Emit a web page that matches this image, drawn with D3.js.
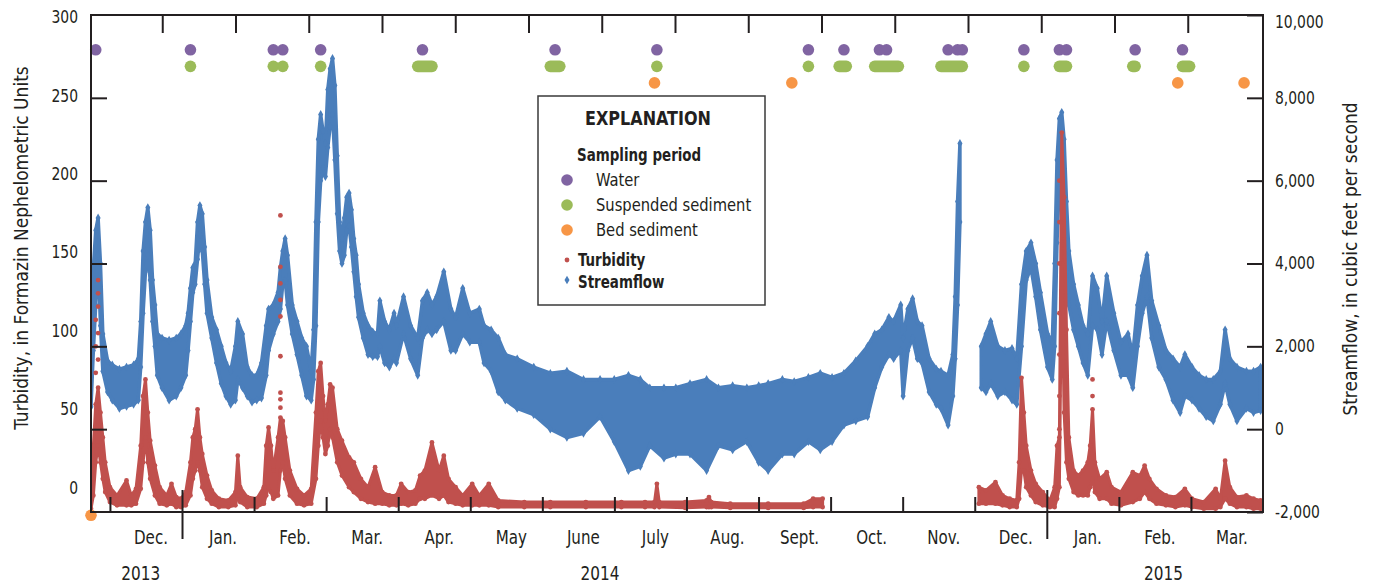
<!DOCTYPE html>
<html>
<head>
<meta charset="utf-8">
<script src="https://cdn.jsdelivr.net/npm/d3@7"></script>
<style>
  body { margin: 0; background: #fff; }
</style>
</head>
<body>
<div id="chart"></div>
<script>
// streamflow, cubic feet per second: [date, daily low, daily high]
const flowRecords = [
  ['2013-11-23', 540, 1900], ['2013-11-24', 1900, 3900], ['2013-11-25', 3000, 4800],
  ['2013-11-26', 4200, 5100], ['2013-11-27', 2500, 4000], ['2013-11-28', 1400, 2300],
  ['2013-11-30', 900, 1650], ['2013-12-02', 700, 1550], ['2013-12-05', 500, 1450],
  ['2013-12-08', 550, 1500], ['2013-12-11', 600, 1550], ['2013-12-13', 700, 1700],
  ['2013-12-14', 1500, 2600], ['2013-12-15', 2800, 4300], ['2013-12-16', 3800, 5000],
  ['2013-12-17', 4200, 5350], ['2013-12-18', 3600, 4800], ['2013-12-19', 2600, 3600],
  ['2013-12-20', 2000, 3000], ['2013-12-21', 1300, 2300], ['2013-12-23', 1000, 2200],
  ['2013-12-26', 700, 2150], ['2013-12-29', 800, 2200], ['2013-12-31', 1000, 2300],
  ['2014-01-02', 1300, 2500], ['2014-01-03', 1900, 2800], ['2014-01-04', 2600, 3400],
  ['2014-01-05', 3300, 3900], ['2014-01-06', 3500, 4000], ['2014-01-07', 4100, 5000],
  ['2014-01-08', 4700, 5400], ['2014-01-09', 4300, 5200], ['2014-01-10', 3500, 4400],
  ['2014-01-11', 2800, 3600], ['2014-01-13', 2200, 2700], ['2014-01-15', 1600, 2400],
  ['2014-01-17', 1100, 2000], ['2014-01-19', 800, 1600], ['2014-01-21', 600, 1400],
  ['2014-01-23', 700, 2000], ['2014-01-24', 1200, 2600], ['2014-01-26', 1000, 2300],
  ['2014-01-28', 800, 1500], ['2014-01-30', 650, 1300], ['2014-02-01', 700, 1300],
  ['2014-02-03', 750, 1600], ['2014-02-05', 1300, 2500], ['2014-02-06', 1900, 2900],
  ['2014-02-08', 2300, 3000], ['2014-02-10', 2600, 3300], ['2014-02-11', 2900, 3900],
  ['2014-02-12', 3500, 4300], ['2014-02-13', 3600, 4600], ['2014-02-14', 3000, 4200],
  ['2014-02-16', 2300, 3000], ['2014-02-18', 1800, 2600], ['2014-02-20', 1300, 2200],
  ['2014-02-22', 800, 2000], ['2014-02-24', 700, 1400], ['2014-02-25', 1200, 2400],
  ['2014-02-26', 2500, 5000], ['2014-02-27', 5000, 7000], ['2014-02-28', 6000, 7600],
  ['2014-03-01', 6300, 7200], ['2014-03-02', 6100, 6900], ['2014-03-03', 6800, 8200],
  ['2014-03-04', 7300, 8700], ['2014-03-05', 7600, 8950], ['2014-03-06', 6500, 8300],
  ['2014-03-07', 5200, 6600], ['2014-03-08', 4300, 5000], ['2014-03-09', 4000, 4600],
  ['2014-03-10', 4200, 5100], ['2014-03-11', 4800, 5600], ['2014-03-12', 4900, 5700],
  ['2014-03-13', 4400, 5300], ['2014-03-14', 3800, 4600], ['2014-03-15', 3200, 4200],
  ['2014-03-16', 2700, 3500], ['2014-03-18', 2200, 2800], ['2014-03-20', 1800, 2500],
  ['2014-03-22', 1750, 2350], ['2014-03-24', 1750, 2300], ['2014-03-25', 2000, 3100],
  ['2014-03-27', 1600, 2600], ['2014-03-29', 1500, 2400], ['2014-03-31', 1700, 2800],
  ['2014-04-01', 1600, 2500], ['2014-04-04', 2300, 3200], ['2014-04-07', 1700, 2500],
  ['2014-04-10', 1300, 2200], ['2014-04-12', 2200, 3100], ['2014-04-14', 2400, 3300],
  ['2014-04-16', 2300, 3000], ['2014-04-18', 2400, 3200], ['2014-04-21', 2600, 3800],
  ['2014-04-24', 1900, 2900], ['2014-04-26', 1900, 2700], ['2014-04-29', 2300, 3400],
  ['2014-05-02', 2100, 2800], ['2014-05-06', 2100, 2900], ['2014-05-08', 1600, 2500],
  ['2014-05-11', 1400, 2400], ['2014-05-14', 900, 2200], ['2014-05-17', 700, 1800],
  ['2014-05-22', 500, 1700], ['2014-05-29', 350, 1500], ['2014-06-05', 0, 1350],
  ['2014-06-12', -200, 1400], ['2014-06-19', -100, 1200], ['2014-06-26', 300, 1200],
  ['2014-07-02', -300, 1200], ['2014-07-08', -1000, 1300], ['2014-07-13', -900, 1200],
  ['2014-07-17', -400, 1000], ['2014-07-23', -700, 1000], ['2014-07-28', -600, 1000],
  ['2014-08-03', -600, 1100], ['2014-08-10', -1000, 1200], ['2014-08-15', -400, 1000],
  ['2014-08-21', -500, 1050], ['2014-08-27', -300, 1000], ['2014-09-01', -800, 1050],
  ['2014-09-05', -1000, 1100], ['2014-09-11', -600, 1200], ['2014-09-16', -600, 1150],
  ['2014-09-22', -300, 1250], ['2014-09-27', -500, 1350], ['2014-10-02', -300, 1250],
  ['2014-10-07', 100, 1350], ['2014-10-12', 200, 1650], ['2014-10-17', 300, 2000],
  ['2014-10-20', 1000, 2300], ['2014-10-23', 1500, 2400], ['2014-10-26', 1800, 2700],
  ['2014-10-28', 1700, 2600], ['2014-10-31', 1900, 3000], ['2014-11-01', 800, 2200],
  ['2014-11-03', 1900, 2900], ['2014-11-05', 2200, 3150], ['2014-11-07', 1700, 2600],
  ['2014-11-09', 1600, 2500], ['2014-11-12', 900, 1700], ['2014-11-15', 600, 1450],
  ['2014-11-17', 500, 1400], ['2014-11-20', 100, 1300], ['2014-11-22', 800, 1800],
  ['2014-11-23', 1700, 3200], ['2014-11-24', 3000, 5500], ['2014-11-25', 5000, 6900],
  null, // no record
  ['2014-12-04', 1000, 2000], ['2014-12-06', 900, 2300], ['2014-12-08', 1100, 2600],
  ['2014-12-11', 800, 2000], ['2014-12-14', 900, 1900], ['2014-12-17', 700, 1950],
  ['2014-12-19', 600, 1700], ['2014-12-21', 2000, 3500], ['2014-12-23', 3600, 4300],
  ['2014-12-25', 3900, 4500], ['2014-12-27', 3200, 4000], ['2014-12-29', 2400, 3300],
  ['2015-01-01', 1500, 2300], ['2015-01-03', 1200, 2100], ['2015-01-04', 2000, 4000],
  ['2015-01-05', 4500, 6500], ['2015-01-06', 6000, 7500], ['2015-01-07', 6600, 7650],
  ['2015-01-08', 5000, 7000], ['2015-01-09', 3800, 5500], ['2015-01-10', 3000, 4300],
  ['2015-01-12', 2400, 3500], ['2015-01-14', 2000, 3000], ['2015-01-16', 1600, 2500],
  ['2015-01-18', 1300, 2300], ['2015-01-20', 2500, 3700], ['2015-01-22', 2400, 3400],
  ['2015-01-24', 1800, 2600], ['2015-01-26', 2600, 3700], ['2015-01-29', 1900, 2800],
  ['2015-02-01', 1300, 2100], ['2015-02-04', 1300, 2300], ['2015-02-06', 1000, 1800],
  ['2015-02-08', 2000, 3000], ['2015-02-10', 2800, 3700], ['2015-02-12', 3200, 4200],
  ['2015-02-14', 2200, 3100], ['2015-02-17', 1500, 2500], ['2015-02-20', 1200, 1900],
  ['2015-02-23', 700, 1700], ['2015-02-26', 400, 1500], ['2015-02-28', 800, 1800],
  ['2015-03-03', 700, 1500], ['2015-03-06', 500, 1300], ['2015-03-09', 300, 1200],
  ['2015-03-12', 200, 1200], ['2015-03-15', 600, 1400], ['2015-03-17', 1100, 2400],
  ['2015-03-19', 600, 1700], ['2015-03-22', 200, 1500], ['2015-03-26', 500, 1400],
  ['2015-03-29', 400, 1400], ['2015-04-01', 450, 1500]
]

// turbidity, FNU: [date, daily low, daily high]
const turbidityRecords = [
  ['2013-11-23', 2, 20], ['2013-11-24', 10, 40], ['2013-11-25', 30, 65],
  ['2013-11-26', 40, 75], ['2013-11-27', 30, 60], ['2013-11-28', 20, 45],
  ['2013-11-29', 12, 30], ['2013-12-01', 6, 15], ['2013-12-04', 4, 10],
  ['2013-12-08', 4, 19], ['2013-12-10', 4, 10], ['2013-12-12', 5, 14],
  ['2013-12-14', 14, 40], ['2013-12-15', 30, 70], ['2013-12-16', 45, 80],
  ['2013-12-17', 30, 60], ['2013-12-18', 20, 43], ['2013-12-20', 10, 28],
  ['2013-12-22', 5, 15], ['2013-12-25', 4, 10], ['2013-12-27', 5, 17],
  ['2013-12-29', 3, 9], ['2013-12-31', 3, 8], ['2014-01-02', 4, 12],
  ['2014-01-04', 10, 30], ['2014-01-05', 20, 45], ['2014-01-06', 25, 50],
  ['2014-01-07', 30, 62], ['2014-01-08', 25, 45], ['2014-01-09', 15, 35],
  ['2014-01-11', 8, 22], ['2014-01-13', 5, 13], ['2014-01-16', 3, 8],
  ['2014-01-20', 3, 7], ['2014-01-23', 4, 12], ['2014-01-24', 10, 34],
  ['2014-01-25', 6, 15], ['2014-01-28', 3, 9], ['2014-02-01', 3, 8],
  ['2014-02-04', 5, 15], ['2014-02-05', 10, 40], ['2014-02-06', 15, 51],
  ['2014-02-07', 12, 40], ['2014-02-08', 8, 25], ['2014-02-10', 10, 45],
  ['2014-02-11', 25, 57], ['2014-02-12', 30, 55], ['2014-02-13', 20, 45],
  ['2014-02-15', 10, 25], ['2014-02-18', 5, 14], ['2014-02-21', 4, 10],
  ['2014-02-24', 5, 14], ['2014-02-26', 20, 60], ['2014-02-27', 40, 85],
  ['2014-02-28', 55, 90], ['2014-03-01', 45, 70], ['2014-03-02', 35, 55],
  ['2014-03-03', 40, 65], ['2014-03-04', 50, 77], ['2014-03-05', 45, 75],
  ['2014-03-07', 30, 50], ['2014-03-09', 22, 43], ['2014-03-12', 15, 33],
  ['2014-03-14', 12, 30], ['2014-03-17', 8, 20], ['2014-03-20', 6, 15],
  ['2014-03-23', 5, 27], ['2014-03-26', 5, 12], ['2014-03-29', 4, 10],
  ['2014-04-01', 4, 10], ['2014-04-03', 5, 17], ['2014-04-06', 4, 12],
  ['2014-04-09', 5, 13], ['2014-04-11', 8, 22], ['2014-04-13', 8, 25],
  ['2014-04-16', 10, 42], ['2014-04-19', 8, 25], ['2014-04-21', 10, 34],
  ['2014-04-23', 6, 20], ['2014-04-26', 5, 15], ['2014-04-29', 4, 10],
  ['2014-05-03', 4, 17], ['2014-05-06', 4, 10], ['2014-05-10', 4, 17],
  ['2014-05-14', 3, 7], ['2014-05-25', 3, 6], ['2014-06-05', 3, 6],
  ['2014-06-20', 3, 6], ['2014-07-05', 3, 6], ['2014-07-15', 3, 6],
  ['2014-07-19', 3, 6], ['2014-07-20', 4, 17], ['2014-07-21', 3, 6],
  ['2014-08-01', 2.5, 6], ['2014-08-10', 3, 7], ['2014-08-11', 3, 9],
  ['2014-08-12', 3, 6], ['2014-08-20', 2.5, 5], ['2014-09-05', 2.5, 5],
  ['2014-09-20', 2.5, 5], ['2014-09-24', 3, 8], ['2014-09-28', 3, 8],
  null, // no record
  ['2014-12-03', 5, 15], ['2014-12-06', 5, 13], ['2014-12-10', 5, 18],
  ['2014-12-13', 4, 10], ['2014-12-16', 3, 8], ['2014-12-19', 3, 7],
  ['2014-12-20', 8, 30], ['2014-12-21', 25, 81], ['2014-12-22', 25, 60],
  ['2014-12-23', 15, 40], ['2014-12-25', 10, 25], ['2014-12-27', 6, 17],
  ['2014-12-30', 4, 12], ['2015-01-02', 3, 7], ['2015-01-04', 3, 15],
  ['2015-01-05', 8, 40], ['2015-01-06', 15, 45], ['2015-01-07', 150, 229],
  ['2015-01-08', 60, 190], ['2015-01-09', 30, 110], ['2015-01-10', 20, 45],
  ['2015-01-12', 12, 25], ['2015-01-14', 10, 22], ['2015-01-16', 10, 25],
  ['2015-01-18', 10, 30], ['2015-01-19', 15, 40], ['2015-01-20', 20, 62],
  ['2015-01-21', 12, 30], ['2015-01-23', 8, 20], ['2015-01-26', 8, 24],
  ['2015-01-28', 5, 15], ['2015-02-01', 4, 12], ['2015-02-06', 6, 24],
  ['2015-02-09', 8, 22], ['2015-02-11', 12, 28], ['2015-02-13', 8, 20],
  ['2015-02-16', 5, 14], ['2015-02-20', 4, 10], ['2015-02-24', 3, 9],
  ['2015-02-28', 4, 14], ['2015-03-03', 3, 8], ['2015-03-08', 2, 6],
  ['2015-03-13', 2, 14], ['2015-03-15', 3, 8], ['2015-03-17', 8, 31],
  ['2015-03-19', 5, 15], ['2015-03-22', 3, 9], ['2015-03-26', 3, 10],
  ['2015-03-29', 2, 8], ['2015-04-01', 2, 7]
]
// scattered turbidity readings on fast rises: [date, value]
const turbiditySpikeReadings = [
  ['2013-11-25', 84], ['2013-11-25', 100], ['2013-11-25', 116],
  ['2013-11-26', 92], ['2013-11-26', 108], ['2013-11-26', 124],
  ['2013-11-26', 132], ['2013-11-26', 140],
  ['2014-02-11', 63], ['2014-02-11', 68], ['2014-02-11', 72], ['2014-02-11', 94],
  ['2014-02-11', 118], ['2014-02-11', 128], ['2014-02-11', 138],
  ['2014-02-11', 148], ['2014-02-11', 179],
  ['2015-01-06', 50], ['2015-01-06', 70], ['2015-01-06', 95], ['2015-01-06', 120],
  ['2015-01-06', 150], ['2015-01-06', 175], ['2015-01-06', 200],
  ['2015-01-20', 70], ['2015-01-20', 80]
]

// sampling periods: [first day, last day]
const waterPeriods = [
  ['2013-11-25', '2013-11-25'], ['2014-01-04', '2014-01-04'], ['2014-02-08', '2014-02-08'],
  ['2014-02-12', '2014-02-12'], ['2014-02-28', '2014-02-28'], ['2014-04-12', '2014-04-12'],
  ['2014-06-07', '2014-06-07'], ['2014-07-20', '2014-07-20'], ['2014-09-22', '2014-09-22'],
  ['2014-10-07', '2014-10-07'], ['2014-10-22', '2014-10-22'], ['2014-10-25', '2014-10-25'],
  ['2014-11-20', '2014-11-20'], ['2014-11-24', '2014-11-24'], ['2014-11-26', '2014-11-26'],
  ['2014-12-22', '2014-12-22'], ['2015-01-06', '2015-01-06'], ['2015-01-09', '2015-01-09'],
  ['2015-02-07', '2015-02-07'], ['2015-02-27', '2015-02-27']
]
const suspendedPeriods = [
  ['2014-01-04', '2014-01-04'], ['2014-02-08', '2014-02-08'], ['2014-02-12', '2014-02-12'],
  ['2014-02-28', '2014-02-28'], ['2014-04-10', '2014-04-16'], ['2014-06-05', '2014-06-09'],
  ['2014-07-20', '2014-07-20'], ['2014-09-22', '2014-09-22'], ['2014-10-05', '2014-10-08'],
  ['2014-10-20', '2014-10-30'], ['2014-11-17', '2014-11-26'], ['2014-12-22', '2014-12-22'],
  ['2015-01-06', '2015-01-09'], ['2015-02-06', '2015-02-07'], ['2015-02-27', '2015-03-02']
]
const bedPeriods = [
  ['2014-07-19', '2014-07-19'], ['2014-09-15', '2014-09-15'],
  ['2015-02-25', '2015-02-25'], ['2015-03-25', '2015-03-25']
]
// one bed-sediment sample sits on the lower left corner of the graph
const strayBedSample = ['2013-11-23', -2]

// marker rows, in turbidity units
const waterLevel = 279
const suspendedLevel = 269
const bedLevel = 259

const turbidityTicks = [0, 50, 100, 150, 200, 250, 300]
const flowTicks = [-2000, 0, 2000, 4000, 6000, 8000, 10000]
const monthLabels = ['Dec.', 'Jan.', 'Feb.', 'Mar.', 'Apr.', 'May', 'June', 'July',
  'Aug.', 'Sept.', 'Oct.', 'Nov.', 'Dec.', 'Jan.', 'Feb.', 'Mar.']
const yearLabels = ['2013', '2014', '2015']
const yearLabelDates = ['2013-12-14', '2014-06-26', '2015-02-19']

const ink = '#231f20'
const font = '"DejaVu Sans Condensed", "DejaVu Sans", sans-serif'
const blue = '#4a7ebb'
const red = '#c0504d'
const purple = '#8064a2'
const green = '#9bbb59'
const orange = '#f79646'

let margin = { top: 15, right: 114, bottom: 72, left: 91 }
let width = 1377 - margin.left - margin.right
let height = 584 - margin.top - margin.bottom

const parse = d3.timeParse('%Y-%m-%d')

// squeeze text sideways round its anchor, the original type is a narrow face
function condense(selection, sx) {
  selection.each(function() {
    let t = d3.select(this)
    let tx = +t.attr('x') || 0
    let ty = +t.attr('y') || 0
    let prev = t.attr('transform') || ''
    t.attr('transform', prev + ' translate(' + tx + ',' + ty + ') scale(' + sx + ',1) translate(' + -tx + ',' + -ty + ')')
  })
}

let svg = d3.select('#chart')
  .append('svg')
  .attr('width', width + margin.left + margin.right)
  .attr('height', height + margin.top + margin.bottom)
  .style('display', 'block')
  .append('g')
  .attr('transform', 'translate(' + margin.left + ',' + margin.top + ')')

let x = d3.scaleTime()
  .domain([parse('2013-11-23'), parse('2015-04-02')])
  .range([0, width])
let yTurb = d3.scaleLinear().domain([0, 300]).range([height, 0])
// the printed turbidity numbers do not sit on their tick marks
let yTurbLabel = d3.scaleLinear().domain([0, 300]).range([height - 24.3, 2.3])
let yFlow = d3.scaleLinear().domain([-2000, 10000]).range([height, 0])

let flow = flowRecords.map(r => r && { date: parse(r[0]), low: r[1], high: r[2] })
let turb = turbidityRecords.map(r => r && { date: parse(r[0]), low: r[1], high: r[2] })

svg.append('clipPath')
  .attr('id', 'plot-clip')
  .append('rect')
  .attr('x', 0)
  .attr('y', -2)
  .attr('width', width)
  .attr('height', height + 2)

let plot = svg.append('g').attr('clip-path', 'url(#plot-clip)')

// Streamflow band
let flowArea = d3.area()
  .defined(d => d)
  .x(d => x(d.date))
  .y0(d => yFlow(d.low))
  .y1(d => yFlow(d.high))

plot.append('path')
  .datum(flow)
  .attr('d', flowArea)
  .attr('fill', blue)
  .attr('stroke', blue)
  .attr('stroke-width', 3.5)
  .attr('stroke-linejoin', 'round')

let diamond = d3.symbol().type(d3.symbolDiamond).size(22)
let flowPoints = flow.filter(d => d).flatMap(d => [[d.date, d.low], [d.date, d.high]])
plot.selectAll('.flow-point')
  .data(flowPoints)
  .enter().append('path')
  .attr('class', 'flow-point')
  .attr('d', diamond)
  .attr('transform', d => 'translate(' + x(d[0]) + ',' + yFlow(d[1]) + ')')
  .attr('fill', blue)

// Turbidity band on top
let turbArea = d3.area()
  .defined(d => d)
  .x(d => x(d.date))
  .y0(d => yTurb(d.low))
  .y1(d => yTurb(d.high))

plot.append('path')
  .datum(turb)
  .attr('d', turbArea)
  .attr('fill', red)
  .attr('stroke', red)
  .attr('stroke-width', 3)
  .attr('stroke-linejoin', 'round')

let turbPoints = turb.filter(d => d)
  .flatMap(d => [[d.date, d.low], [d.date, d.high]])
  .concat(turbiditySpikeReadings.map(d => [parse(d[0]), d[1]]))
plot.selectAll('.turb-point')
  .data(turbPoints)
  .enter().append('circle')
  .attr('class', 'turb-point')
  .attr('cx', d => x(d[0]))
  .attr('cy', d => yTurb(d[1]))
  .attr('r', 2.4)
  .attr('fill', red)

// Sampling periods, drawn as pills from first to last day
let r = 5.8
function drawPeriods(periods, level, color) {
  svg.append('g')
    .selectAll('rect')
    .data(periods)
    .enter().append('rect')
    .attr('x', d => x(parse(d[0])) - r)
    .attr('y', yTurb(level) - r)
    .attr('width', d => x(parse(d[1])) - x(parse(d[0])) + 2 * r)
    .attr('height', 2 * r)
    .attr('rx', r)
    .attr('fill', color)
}
drawPeriods(waterPeriods, waterLevel, purple)
drawPeriods(suspendedPeriods, suspendedLevel, green)
drawPeriods(bedPeriods, bedLevel, orange)

svg.append('circle')
  .attr('cx', x(parse(strayBedSample[0])))
  .attr('cy', yTurb(strayBedSample[1]))
  .attr('r', r)
  .attr('fill', orange)

// Frame
svg.append('rect')
  .attr('width', width)
  .attr('height', height)
  .attr('fill', 'none')
  .attr('stroke', ink)
  .attr('stroke-width', 2)

function styleAxis(g, size) {
  g.attr('font-family', font).attr('font-size', size).attr('color', ink)
  g.select('.domain').remove()
  g.selectAll('.tick line').attr('stroke-width', 2)
}

// Left axis: marks and numbers
svg.append('g')
  .call(d3.axisLeft(yTurb).tickValues(turbidityTicks.slice(1, -1)).tickSize(-16).tickFormat(''))
  .call(styleAxis, 17)

svg.append('g')
  .call(d3.axisLeft(yTurbLabel).tickValues(turbidityTicks).tickSize(0).tickPadding(13))
  .call(styleAxis, 17)
  .call(g => g.selectAll('text').call(condense, 0.91))

// Right axis
let flowFormat = d => d3.format(',')(d).replace('\u2212', '-')
svg.append('g')
  .attr('transform', 'translate(' + width + ',0)')
  .call(d3.axisRight(yFlow).tickValues(flowTicks).tickSize(-16).tickPadding(12).tickFormat(flowFormat))
  .call(styleAxis, 17)
  .call(g => g.selectAll('.tick').filter(d => d === 10000).select('text').attr('y', 7))
  .call(g => g.selectAll('text').call(condense, 0.91))

// Bottom axis: ticks every 1/12 year from Dec. 1, 2013
let tickStart = parse('2013-12-01')
let tickDates = d3.range(17).map(k => new Date(+tickStart + k * 30.4375 * 864e5))

let bottomAxis = svg.append('g')
  .attr('transform', 'translate(0,' + height + ')')
  .call(d3.axisBottom(x).tickValues(tickDates.slice(0, 16)).tickSize(-15).tickFormat(''))
  .call(styleAxis, 20)

bottomAxis.selectAll('.tick line')
  .filter((d, i) => monthLabels[i] === 'Jan.')
  .attr('y1', 27)
  .attr('y2', -22)

svg.append('g')
  .attr('font-family', font)
  .attr('font-size', 20)
  .attr('fill', ink)
  .attr('text-anchor', 'middle')
  .selectAll('text')
  .data(monthLabels)
  .enter().append('text')
  .attr('x', (d, i) => (x(tickDates[i]) + x(tickDates[i + 1])) / 2 + 5)
  .attr('y', height + 32)
  .text(d => d)
  .call(condense, 0.84)

svg.append('g')
  .attr('font-family', font)
  .attr('font-size', 20)
  .attr('fill', ink)
  .attr('text-anchor', 'middle')
  .selectAll('text')
  .data(yearLabels)
  .enter().append('text')
  .attr('x', (d, i) => x(parse(yearLabelDates[i])))
  .attr('y', height + 68)
  .text(d => d)
  .call(condense, 0.85)

// Top axis: plain marks
let topTicks = d3.range(1, 16).map(i => x.invert(i * width / 16 - 2))
svg.append('g')
  .call(d3.axisTop(x).tickValues(topTicks).tickSize(-18).tickFormat(''))
  .call(styleAxis, 18)

// Axis titles
svg.append('text')
  .attr('transform', 'translate(' + (28 - margin.left) + ',' + 233 + ') rotate(-90)')
  .attr('text-anchor', 'middle')
  .attr('font-family', font)
  .attr('font-size', 20)
  .attr('fill', ink)
  .text('Turbidity, in Formazin Nephelometric Units')
  .call(condense, 0.95)

svg.append('text')
  .attr('transform', 'translate(' + (width + 94) + ',' + 244 + ') rotate(-90)')
  .attr('text-anchor', 'middle')
  .attr('font-family', font)
  .attr('font-size', 20)
  .attr('fill', ink)
  .text('Streamflow, in cubic feet per second')
  .call(condense, 0.95)

// Explanation box
let legend = svg.append('g')
  .attr('transform', 'translate(447,81)')
  .attr('font-family', font)
  .attr('fill', ink)

legend.append('rect')
  .attr('width', 227)
  .attr('height', 209)
  .attr('fill', '#fff')
  .attr('stroke', '#3a3a3a')
  .attr('stroke-width', 1.5)

legend.append('text')
  .attr('x', 110)
  .attr('y', 29)
  .attr('text-anchor', 'middle')
  .attr('font-size', 20)
  .attr('font-weight', 'bold')
  .text('EXPLANATION')
  .call(condense, 0.89)

legend.append('text')
  .attr('x', 39)
  .attr('y', 65)
  .attr('font-size', 18)
  .attr('font-weight', 'bold')
  .text('Sampling period')
  .call(condense, 0.83)

let sampleKeys = [['Water', purple], ['Suspended sediment', green], ['Bed sediment', orange]]
sampleKeys.forEach((k, i) => {
  legend.append('circle')
    .attr('cx', 29)
    .attr('cy', 84 + i * 25)
    .attr('r', r)
    .attr('fill', k[1])
  legend.append('text')
    .attr('x', 58)
    .attr('y', 90 + i * 25)
    .attr('font-size', 18)
    .text(k[0])
    .call(condense, 0.91)
})

legend.append('circle')
  .attr('cx', 29)
  .attr('cy', 164)
  .attr('r', 2.4)
  .attr('fill', red)
legend.append('text')
  .attr('x', 40)
  .attr('y', 170)
  .attr('font-size', 18)
  .attr('font-weight', 'bold')
  .text('Turbidity')
  .call(condense, 0.83)

legend.append('path')
  .attr('d', diamond)
  .attr('transform', 'translate(29,184)')
  .attr('fill', blue)
legend.append('text')
  .attr('x', 40)
  .attr('y', 192)
  .attr('font-size', 18)
  .attr('font-weight', 'bold')
  .text('Streamflow')
  .call(condense, 0.83)
</script>
</body>
</html>
